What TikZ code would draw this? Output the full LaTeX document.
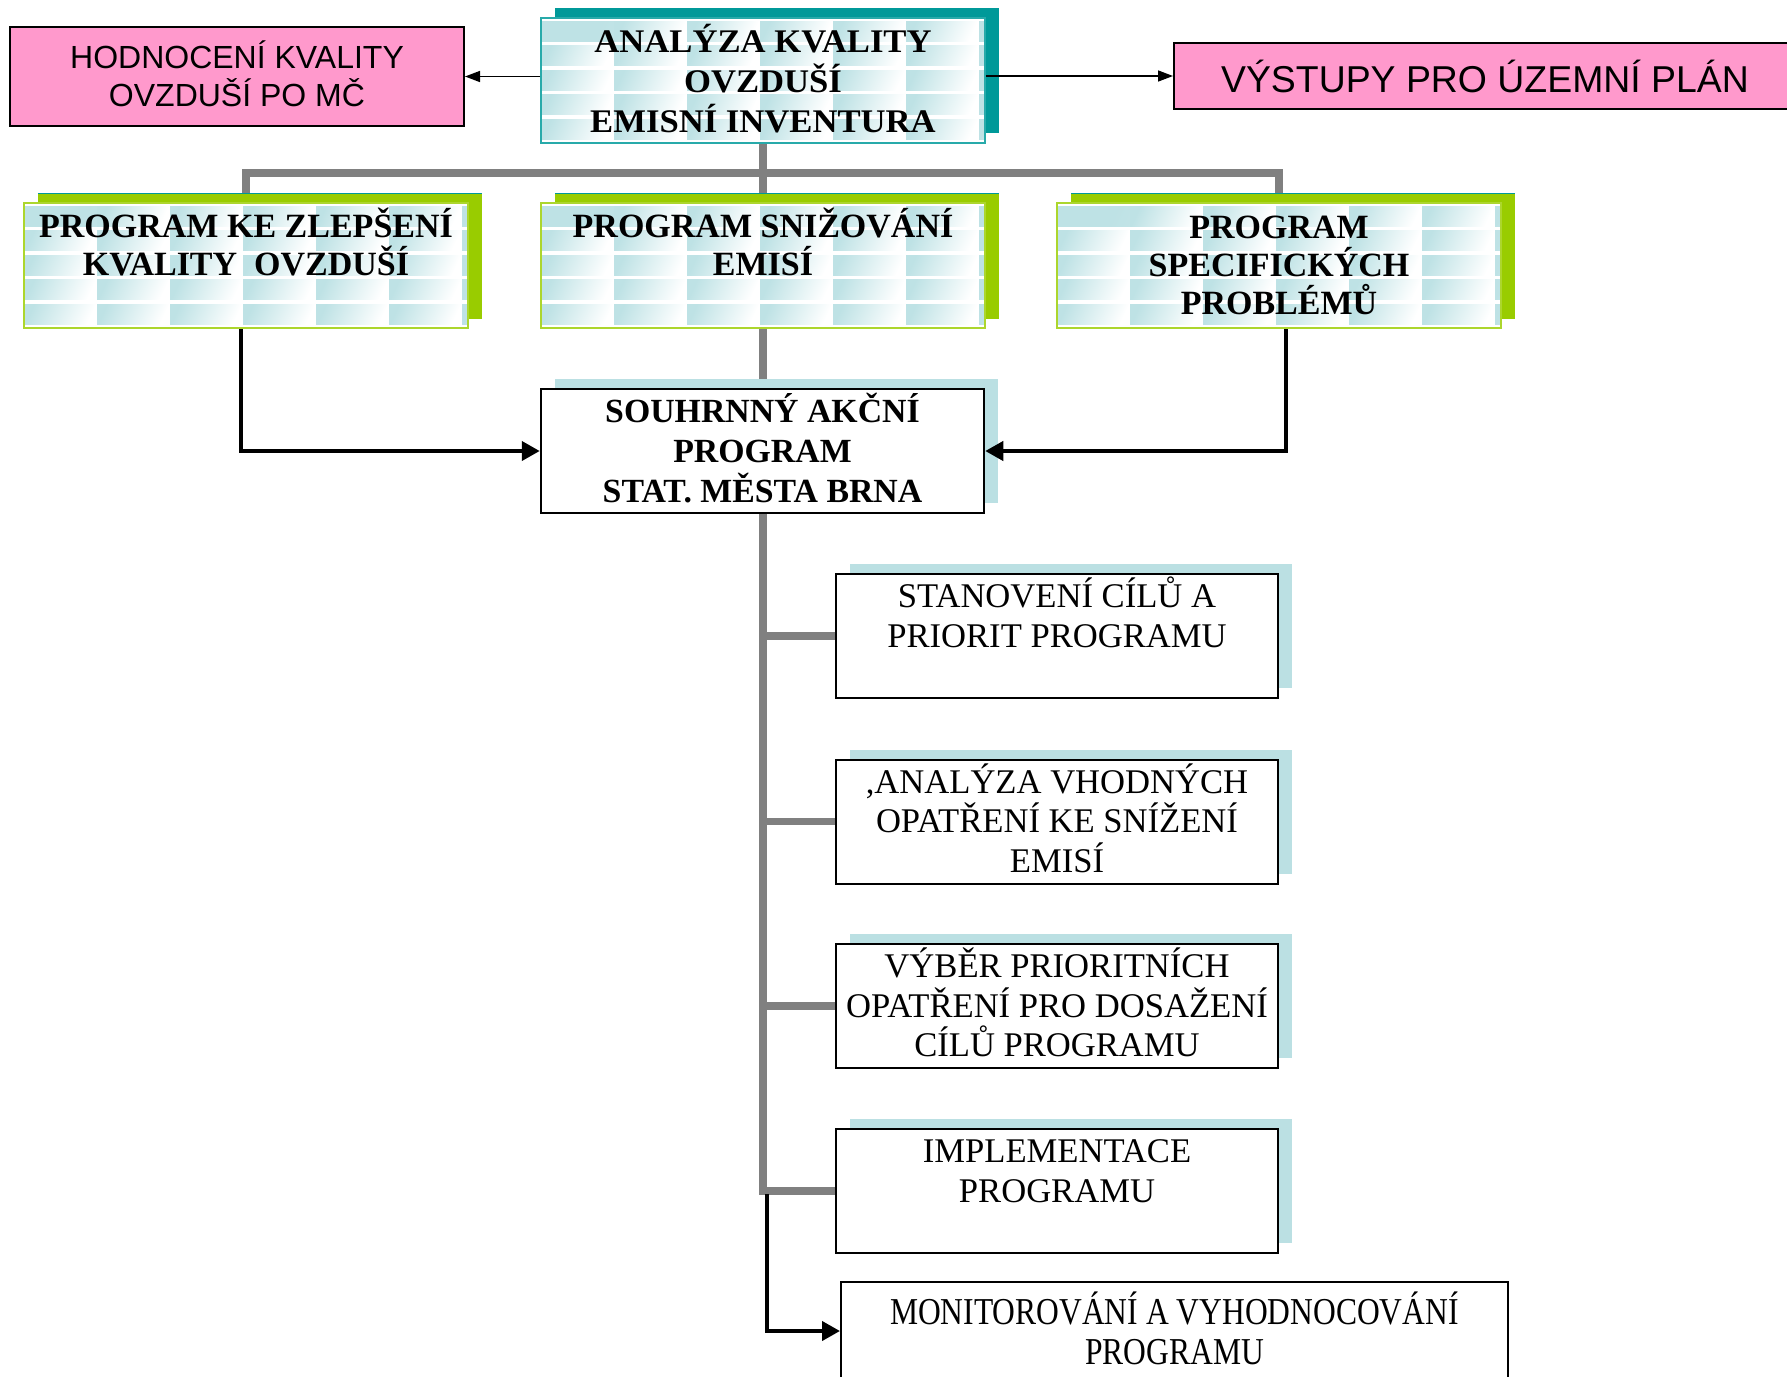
\documentclass[tikz,border=0pt]{standalone}
\usepackage{fontspec}
\setmainfont{Liberation Serif}
\newfontfamily\arialfont{Liberation Sans}
\newfontfamily\uzkyfont[FakeStretch=0.83]{Liberation Serif}
\newfontfamily\sirokyfont[FakeStretch=1.05]{Liberation Serif}
\usepackage{tikz}
\usetikzlibrary{arrows.meta}
\usetikzlibrary{shadows}
\usetikzlibrary{backgrounds}

\definecolor{tyrkys}{RGB}{0,153,153}
\definecolor{tyrkysokraj}{RGB}{40,170,170}
\definecolor{zelena}{RGB}{153,204,0}
\definecolor{zelenaokraj}{RGB}{172,214,45}
\definecolor{ruzova}{RGB}{255,153,204}
\definecolor{svetlemodra}{RGB}{187,224,227}
\definecolor{dlazdice}{RGB}{190,226,229}
\definecolor{seda}{RGB}{128,128,128}

% podpera pod posledni radek
\newcommand{\podpera}[1]{\rule[-#1]{0pt}{#1}}

\begin{document}
\begin{tikzpicture}[x=0.5pt, y=-0.5pt,
    dlazdicky/.style={path picture={
        \foreach \i in {0,...,6}
          \foreach \j in {0,...,5}
            \shade[left color=dlazdice, right color=white, shading angle=65]
              ([shift={(\i*73,\j*24.5+3)}]path picture bounding box.north west) rectangle ++(73,20);
      }},
    hlavni/.style={draw=tyrkysokraj, line width=1pt, fill=white, dlazdicky,
      minimum width=222pt, minimum height=62.5pt, inner sep=0pt, align=center,
      font=\sirokyfont\bfseries\fontsize{16.5}{20}\selectfont,
      general shadow={fill=tyrkys, shadow xshift=7pt, shadow yshift=5pt}},
    program/.style={hlavni, draw=zelenaokraj, font=\bfseries\fontsize{17}{19}\selectfont,
      general shadow={fill=zelena, shadow xshift=7pt, shadow yshift=4.5pt}},
    vystup/.style={draw=black, line width=1pt, fill=ruzova, inner sep=0pt, align=center},
    krok/.style={draw=black, line width=1pt, fill=white, minimum width=221pt,
      minimum height=62pt, inner sep=0pt, align=center,
      font=\fontsize{17.3}{19.75}\selectfont,
      general shadow={fill=svetlemodra, shadow xshift=7pt, shadow yshift=5pt}},
    sedacara/.style={draw=seda, line width=3.75pt},
    sipka/.style={-{Triangle[length=7.5pt,width=5.5pt]}, line width=0.75pt},
    silnasipka/.style={-{Triangle[length=9pt,width=9.5pt]}, line width=2pt}
  ]
    \useasboundingbox (0,0) rectangle (1787,1376);

    % Analyza a vystupy
    \node[hlavni] (analyza) at (763,80.5) {ANALÝZA KVALITY\\OVZDUŠÍ\\EMISNÍ INVENTURA\podpera{2.5pt}};
    \node[vystup, minimum width=227pt, minimum height=49.5pt,
      font=\arialfont\fontsize{16}{19}\selectfont] (hodnoceni) at (237,76.5)
      {HODNOCENÍ KVALITY\\OVZDUŠÍ PO MČ\podpera{2.5pt}};
    \node[vystup, minimum width=311pt, minimum height=33pt,
      font=\arialfont\fontsize{18.7}{20}\selectfont] (vystupy) at (1485,76)
      {VÝSTUPY PRO ÚZEMNÍ PLÁN};

    % Tri programy
    \node[program] (zlepseni) at (246,265.5) {PROGRAM KE ZLEPŠENÍ\\KVALITY \ OVZDUŠÍ\\\podpera{4.5pt}};
    \node[program] (snizovani) at (763,265.5) {PROGRAM SNIŽOVÁNÍ\\EMISÍ\\\podpera{4.5pt}};
    \node[program] (specificke) at (1279,265.5) {PROGRAM\\SPECIFICKÝCH\\PROBLÉMŮ};

    % Souhrnny program
    \node[krok, minimum width=221.5pt, line width=1.25pt,
      font=\bfseries\fontsize{16.9}{20}\selectfont] (souhrnny) at (762.5,451)
      {SOUHRNNÝ AKČNÍ\\PROGRAM\\STAT. MĚSTA BRNA\podpera{3.5pt}};

    % Kroky programu
    \node[krok] (stanoveni) at (1057,636) {STANOVENÍ CÍLŮ A\\PRIORIT PROGRAMU\\\podpera{4pt}};
    \node[krok] (opatreni) at (1057,821.5) {,ANALÝZA VHODNÝCH\\OPATŘENÍ KE SNÍŽENÍ\\EMISÍ\podpera{3.5pt}};
    \node[krok] (vyber) at (1057,1006) {VÝBĚR PRIORITNÍCH\\OPATŘENÍ PRO DOSAŽENÍ\\CÍLŮ PROGRAMU\podpera{3.5pt}};
    \node[krok] (implementace) at (1057,1191) {IMPLEMENTACE\\PROGRAMU\\\mbox{}};
    \node[draw=black, line width=1pt, fill=white, minimum width=333.5pt, minimum height=49pt,
      inner sep=0pt, align=center, font=\uzkyfont\fontsize{19}{20}\selectfont]
      (monitorovani) at (1174.5,1331) {MONITOROVÁNÍ A VYHODNOCOVÁNÍ\\PROGRAMU\podpera{3pt}};

    % Sede vetve pod boxy
    \begin{pgfonlayer}{background}
        \fill[white] (0,0) rectangle (1787,1376);
        \coordinate (rozcesti) at (763,173);
        \coordinate (konec) at (analyza.south |- implementace.west);
        \draw[sedacara] (zlepseni.north) |- (rozcesti) -| (specificke.north);
        \draw[sedacara] (analyza.south) -- (konec) -- (implementace.west);
        \foreach \cil in {stanoveni, opatreni, vyber}
            \draw[sedacara] (analyza.south |- \cil.west) -- (\cil.west);
    \end{pgfonlayer}

    % Sipky
    \draw[sipka] (analyza.west |- hodnoceni.east) -- (hodnoceni.east);
    \draw[sipka] (analyza.east |- vystupy.west) -- (vystupy.west);
    \draw[silnasipka] ([xshift=-2.5pt]zlepseni.south) |- (souhrnny.west);
    \draw[silnasipka] ([xshift=3.5pt]specificke.south) |- (souhrnny.east);
    \draw[silnasipka] ([shift={(4,3)}]konec) |- (monitorovani.west);
\end{tikzpicture}
\end{document}
